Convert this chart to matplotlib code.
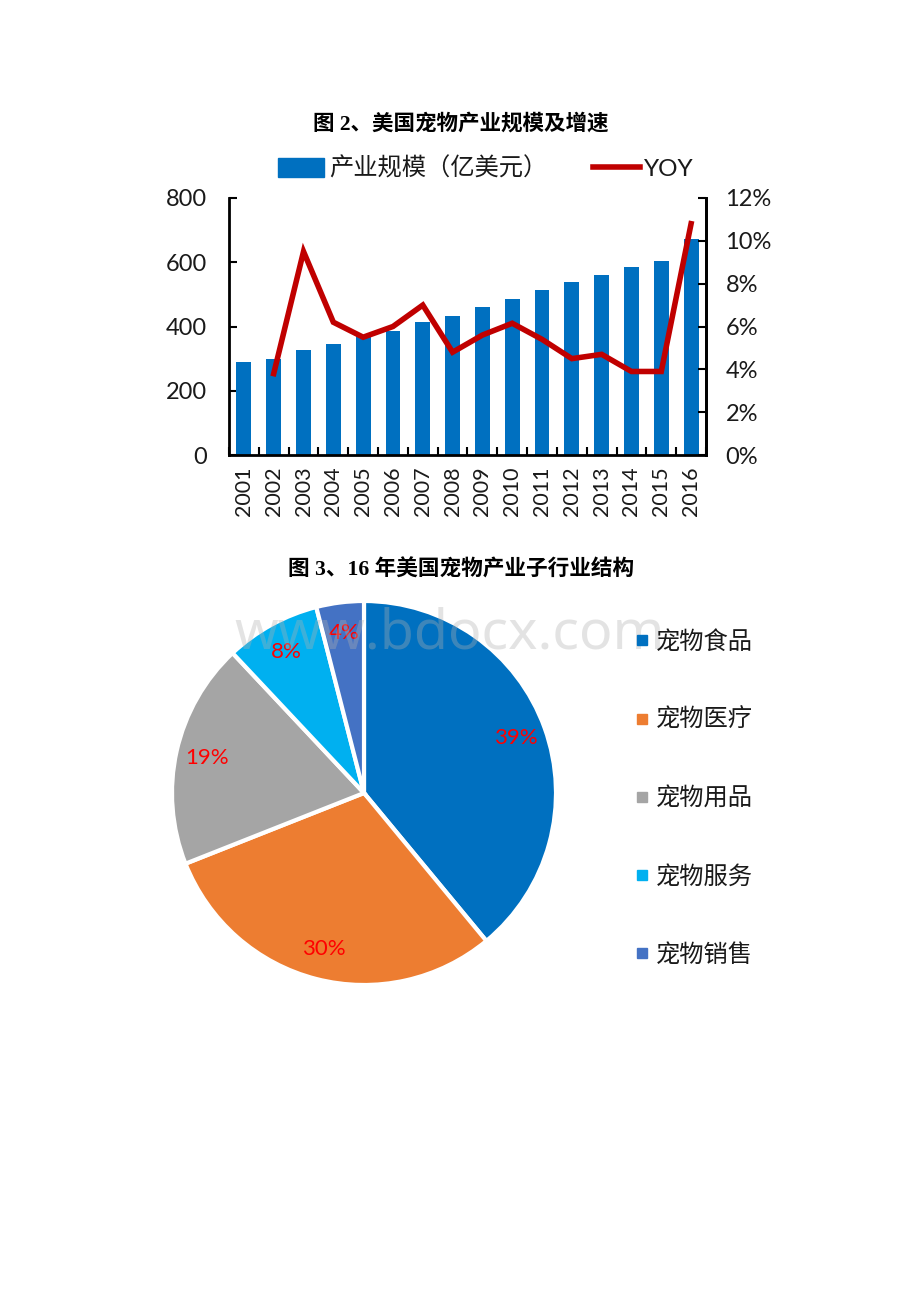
import numpy as np
import matplotlib.pyplot as plt
from matplotlib.patches import Patch
from matplotlib.lines import Line2D
from matplotlib.ticker import FuncFormatter

plt.rcParams['font.family'] = ['Lato', 'Noto Sans CJK SC', 'DejaVu Sans']

# data
years = [str(y) for y in range(2001, 2017)]
scale = [288, 298, 326, 347, 369, 386, 413, 434, 460, 487, 514, 538, 561, 585, 605, 672]
yoy_years = years[1:]
yoy = [3.8, 9.5, 6.2, 5.5, 6.0, 7.0, 4.8, 5.6, 6.15, 5.4, 4.5, 4.7, 3.9, 3.9, 10.8]

pie_labels = ['宠物食品', '宠物医疗', '宠物用品', '宠物服务', '宠物销售']
pie_share = [39, 30, 19, 8, 4]
pie_colors = ['#0070C0', '#ED7D31', '#A5A5A5', '#00B0F0', '#4472C4']

W, H = 920, 1302
fig = plt.figure(figsize=(W / 100, H / 100), dpi=100)

def box(l, t, r, b):
    # pixel box -> figure fraction
    return [l / W, 1 - b / H, (r - l) / W, (b - t) / H]

title_font = ['Liberation Serif', 'Noto Sans CJK SC']
fig.text(461 / W, 1 - 124 / H, '图 2、美国宠物产业规模及增速', ha='center', va='center',
         fontsize=15.5, fontweight='bold', family=title_font)
fig.text(461 / W, 1 - 570 / H, '图 3、16 年美国宠物产业子行业结构', ha='center', va='center',
         fontsize=15.6, fontweight='bold', family=title_font)

## bar + line chart
txt = '#1a1a1a'
ax = fig.add_axes(box(229, 198, 706, 455))
x = np.arange(len(years))
ax.bar(x, scale, width=0.5, color='#0070C0', zorder=2)
ax.set_xlim(-0.5, len(years) - 0.5)
ax.set_ylim(0, 800)
ax.set_yticks([0, 200, 400, 600, 800])
ax.set_xticks(x)
ax.set_xticklabels(years, rotation=90, fontsize=15.5, color=txt)
ax.set_xticks(np.arange(-0.5, len(years), 1), minor=True)
ax.tick_params(axis='x', which='major', length=0, pad=8)
ax.tick_params(axis='x', which='minor', length=6, width=1.5, direction='in')
ax.tick_params(axis='y', length=6, width=1.5, labelsize=17, pad=16, direction='in', labelcolor=txt)
for s in ['left', 'bottom', 'right']:
    ax.spines[s].set_linewidth(2)
ax.spines['top'].set_visible(False)

ax2 = ax.twinx()
ax2.plot(x[1:], yoy, color='#C00000', lw=4, solid_joinstyle='miter', zorder=3)
ax2.set_ylim(0, 12)
ax2.set_yticks([0, 2, 4, 6, 8, 10, 12])
ax2.yaxis.set_major_formatter(FuncFormatter(lambda v, p: f'{v:.0f}%'))
ax2.tick_params(axis='y', length=6, width=1.5, labelsize=17, pad=14, direction='in', labelcolor=txt)
for s in ['left', 'bottom', 'top']:
    ax2.spines[s].set_visible(False)
ax2.spines['right'].set_linewidth(2)

handles = [Patch(color='#0070C0'), Line2D([], [], color='#C00000', lw=4)]
fig.legend(handles, ['产业规模（亿美元）', 'YOY'], loc='center', ncol=2,
           bbox_to_anchor=(486 / W, 1 - 168 / H), frameon=False, fontsize=17.5,
           handlelength=1.9, handleheight=0.85, handletextpad=0.2, columnspacing=1.9,
           labelcolor=txt)

## pie chart
r = 192
cx, cy = 364, 793
pax = fig.add_axes(box(cx - r, cy - r, cx + r, cy + r))
wedges, texts, autotexts = pax.pie(pie_share, colors=pie_colors, startangle=90, counterclock=False,
                                   autopct='%.0f%%', pctdistance=0.84,
                                   wedgeprops=dict(edgecolor='white', linewidth=3),
                                   textprops=dict(color='#FF0000', fontsize=16))
pax.set_aspect('equal')
pax.set_xlim(-1, 1)
pax.set_ylim(-1, 1)
pax.axis('off')

leg_handles = [Line2D([], [], marker='s', ls='', color=c, markersize=7) for c in pie_colors]
fig.legend(leg_handles, pie_labels, loc='upper left', bbox_to_anchor=(613 / W, 1 - 607 / H),
           frameon=False, prop=dict(family='Noto Sans CJK SC', size=17.5, weight='medium'),
           labelspacing=2.15, handlelength=0.6, handletextpad=0.25, labelcolor=txt)

fig.text(450 / W, 1 - 634 / H, 'www.bdocx.com', ha='center', va='center', fontsize=40,
         color='#B0B0B0', alpha=0.35, family='Noto Sans', zorder=0)

fig.savefig('out.png', dpi=100)
